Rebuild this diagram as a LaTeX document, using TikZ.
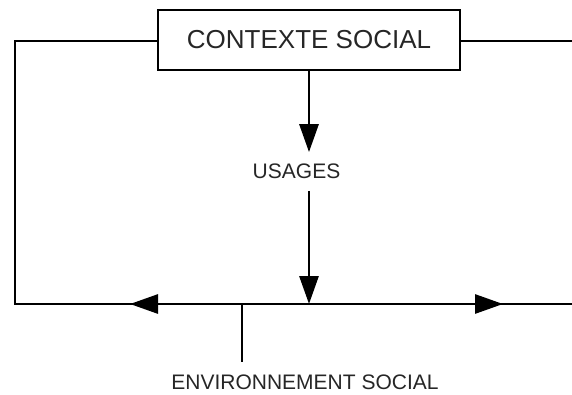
\documentclass[tikz,border=0pt]{standalone}
\usepackage{fontspec}
\setmainfont{Liberation Sans}
\usetikzlibrary{arrows.meta}

\begin{document}
\begin{tikzpicture}[x=1pt,y=-1pt,
  line width=2.9pt,
  wire/.style={draw=black, line join=miter},
  arr/.style={wire, -{Triangle[length=28pt,width=19pt]}},
  titlebox/.style={draw=black, line width=2.9pt, minimum width=302pt, minimum height=60pt,
    inner sep=0pt, text=black!85, font=\fontsize{26}{30}\selectfont},
  label/.style={inner xsep=2pt, text=black!85, font=\fontsize{21}{24}\selectfont}
]
  \useasboundingbox (0,0) rectangle (572,394);

  % main boxes and labels
  \node[titlebox] (ctx) at (309,40) {CONTEXTE SOCIAL};
  \node[label, inner ysep=10.5pt] (usages) at (296.5,171.5) {USAGES};
  \node[label, inner ysep=11pt] (env) at (305,382) {ENVIRONNEMENT SOCIAL};

  % frame corners and points on the bottom line
  \coordinate (topL) at (15,41);
  \coordinate (botL) at (15,304);
  \coordinate (topR) at (572,41);
  \coordinate (botR) at (572,304);
  \coordinate (junction) at (242,304);
  \coordinate (leftBase) at (158,304);
  \coordinate (leftTip) at (130,304);
  \coordinate (rightBase) at (475,304);
  \coordinate (rightTip) at (503,304);

  % outer loop from the context box down to the bottom line
  \draw[wire] (ctx.west |- topL) -- (topL) -- (botL) -- (botR);
  \draw[wire] (ctx.east |- topR) -- (topR);

  % context -> usages -> bottom line
  \draw[arr] (ctx.south) -- (ctx.south |- usages.north);
  \draw[arr] (ctx.south |- usages.south) -- (ctx.south |- botL);

  % arrowheads along the bottom line
  \draw[arr] (leftBase) -- (leftTip);
  \draw[arr] (rightBase) -- (rightTip);

  % link to the environment label
  \draw[wire] (junction) -- (junction |- env.north);
\end{tikzpicture}
\end{document}
